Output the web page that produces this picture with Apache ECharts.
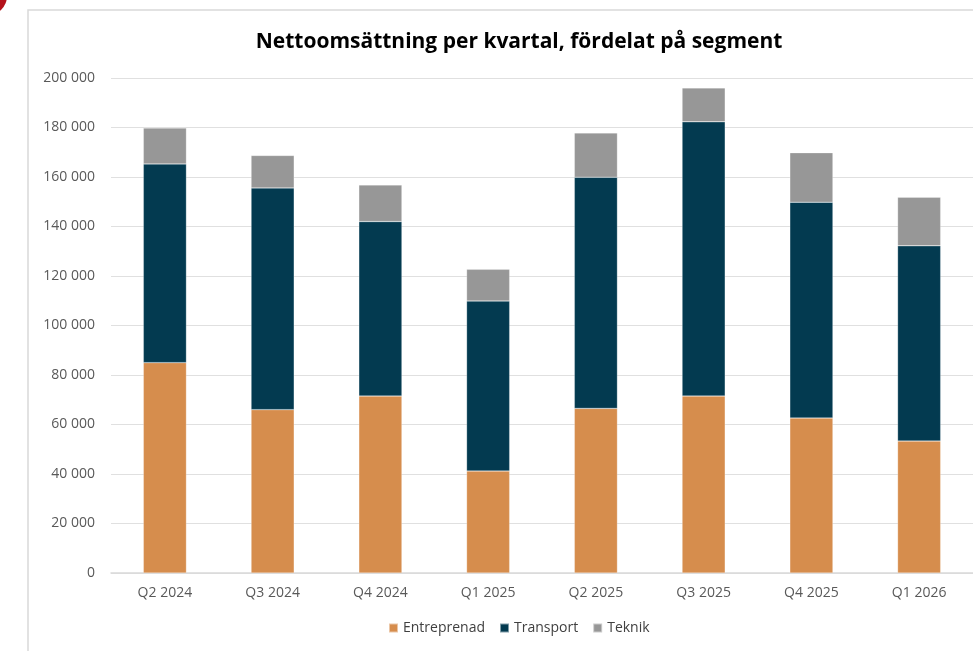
<!DOCTYPE html>
<html>
<head>
<meta charset="utf-8">
<script src="https://cdn.jsdelivr.net/npm/echarts@6/dist/echarts.min.js"></script>
<style>
  html, body { margin: 0; padding: 0; background: #fff; }
  #chart { width: 973px; height: 651px; }
</style>
</head>
<body>
<div id="chart"></div>
<script>
const quarters = ['Q2 2024', 'Q3 2024', 'Q4 2024', 'Q1 2025', 'Q2 2025', 'Q3 2025', 'Q4 2025', 'Q1 2026'];
const entreprenad = [85000, 66000, 71500, 41200, 66500, 71500, 62600, 53300];
const transport = [80300, 89600, 70500, 68700, 93400, 110800, 87200, 78900];
const teknik = [14500, 13100, 14800, 12800, 17900, 13700, 20000, 19600];

const fmt = v => String(v).replace(/\B(?=(\d{3})+(?!\d))/g, ' ');

const chart = echarts.init(document.getElementById('chart'));
const barSeries = (name, data, color) => ({
  name,
  type: 'bar',
  stack: 'total',
  data,
  barWidth: '40%',
  itemStyle: { color, borderColor: 'rgba(255,255,255,0.5)', borderWidth: 0.5 }
});

chart.setOption({
  animation: false,
  textStyle: { fontFamily: 'Open Sans' },
  title: {
    text: 'Nettoomsättning per kvartal, fördelat på segment',
    left: 514,
    textAlign: 'center',
    top: 27,
    textStyle: { fontFamily: 'Open Sans', fontWeight: 'bold', fontSize: 21, color: '#000' }
  },
  graphic: [
    {
      type: 'rect',
      shape: { x: 28, y: 10, width: 1000, height: 700 },
      style: { fill: 'none', stroke: '#d9d9d9', lineWidth: 1.5 },
      z: -1
    },
    {
      type: 'circle',
      shape: { cx: -12, cy: -4, r: 19 },
      style: { fill: '#b5121b' }
    }
  ],
  legend: {
    bottom: 11,
    left: 383,
    itemWidth: 9,
    itemHeight: 9,
    itemGap: 14,
    icon: 'rect',
    textStyle: { color: '#404040', fontSize: 14 },
    data: ['Entreprenad', 'Transport', 'Teknik']
  },
  grid: { left: 111, right: -5, top: 78, bottom: 78 },
  xAxis: {
    type: 'category',
    data: quarters,
    axisTick: { show: false },
    axisLine: { lineStyle: { color: '#d9d9d9', width: 1.5 } },
    axisLabel: { color: '#595959', fontSize: 14, margin: 13 }
  },
  yAxis: {
    type: 'value',
    min: 0,
    max: 200000,
    interval: 20000,
    axisLine: { show: false },
    axisTick: { show: false },
    splitLine: { lineStyle: { color: '#e0e0e0', width: 1.2 } },
    axisLabel: { color: '#595959', fontSize: 14, margin: 16, formatter: fmt }
  },
  series: [
    barSeries('Entreprenad', entreprenad, '#d68d4d'),
    barSeries('Transport', transport, '#033a50'),
    barSeries('Teknik', teknik, '#979797')
  ]
});
</script>
</body>
</html>
